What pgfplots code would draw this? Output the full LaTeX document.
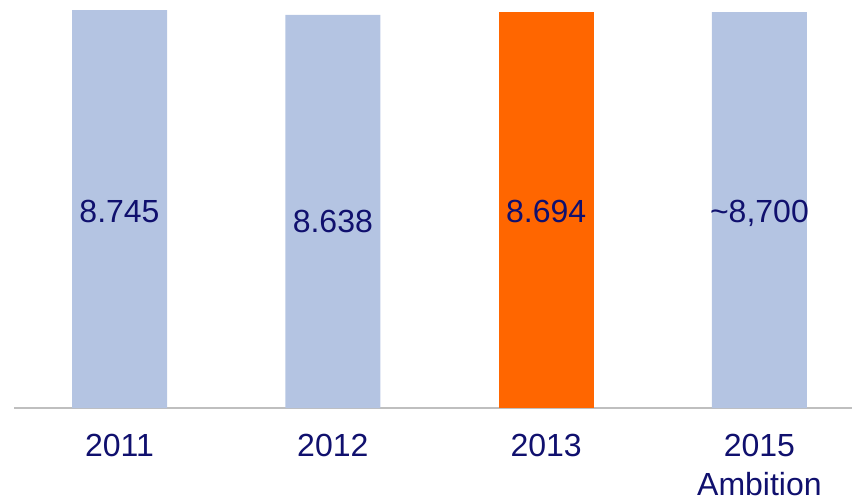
\documentclass[border=0pt]{standalone}
\usepackage{pgfplots}
\pgfplotsset{compat=1.18}
\usepackage{fontspec}
\setmainfont{Liberation Sans}
\definecolor{barblue}{RGB}{180,196,226}
\definecolor{barorange}{RGB}{255,102,0}
\definecolor{navy}{RGB}{16,16,110}
\definecolor{axgray}{RGB}{191,191,191}
\begin{document}
\begin{tikzpicture}
\useasboundingbox (-14pt,-88pt) rectangle (838pt,408pt);
\begin{axis}[
  at={(0,0)}, anchor=south west,
  scale only axis, width=838pt, height=408pt,
  xmin=-0.4946, xmax=3.434, ymin=0, ymax=8965,
  axis y line=none, axis x line=bottom,
  x axis line style={-, draw=axgray, line width=2pt},
  xtick={0,1,2,3}, xticklabels={2011,2012,2013,{2015\\Ambition}},
  major x tick style={draw=none},
  xticklabel style={anchor=north, inner sep=0pt, yshift=-24pt, align=center,
    font=\fontsize{32}{38.5}\selectfont, text=navy},
  ytick=\empty,
  bar width=95pt, bar shift=0pt,
  clip=false,
]
\addplot[ybar, fill=barblue, draw=none] coordinates {(0,8745) (1,8638) (3,8700)};
\addplot[ybar, fill=barorange, draw=none] coordinates {(2,8694)};
\addplot[draw=none, mark=none, nodes near coords, point meta=explicit symbolic,
  every node near coord/.style={anchor=base, inner sep=0pt, text=navy,
    font=\fontsize{32}{38.5}\selectfont}]
  coordinates {(0,4086) [8.745] (1,3867) [8.638] (2,4065) [8.694] (3,4065) [{\textasciitilde 8,700}]};
\end{axis}
\end{tikzpicture}
\end{document}
